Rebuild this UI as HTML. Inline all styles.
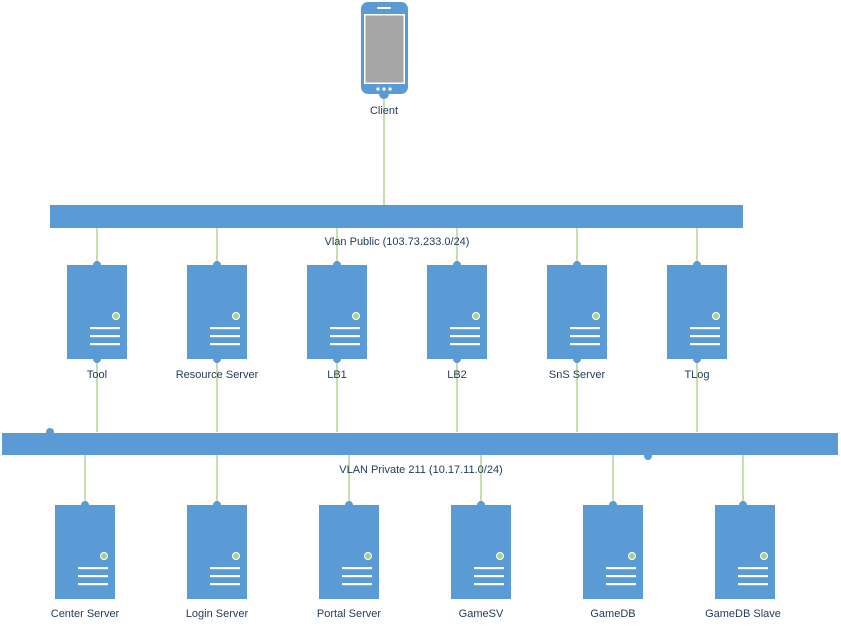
<!DOCTYPE html>
<html><head><style>body{margin:0;background:#fff}svg{display:block}</style></head><body>
<svg width="841" height="628" xmlns="http://www.w3.org/2000/svg" font-family="Liberation Sans, sans-serif" font-size="11" fill="#1f3a5a">
<defs>
<g id="srv">
<rect x="0" y="0" width="60" height="94" fill="#5b9bd5"/>
<circle cx="49" cy="51" r="3.5" fill="#a9d18e" stroke="#fff" stroke-width="1"/>
<rect x="23" y="62" width="30" height="2.2" fill="#fff"/>
<rect x="23" y="70" width="30" height="2.2" fill="#fff"/>
<rect x="23" y="78" width="30" height="2.2" fill="#fff"/>
</g>
</defs>
<g stroke="#8fbf5a" stroke-width="1">
<line x1="384" y1="95" x2="384" y2="205"/>
<line x1="97" y1="228" x2="97" y2="432"/><line x1="217" y1="228" x2="217" y2="432"/>
<line x1="337" y1="228" x2="337" y2="432"/><line x1="457" y1="228" x2="457" y2="432"/>
<line x1="577" y1="228" x2="577" y2="432"/><line x1="697" y1="228" x2="697" y2="432"/>
<line x1="85" y1="455" x2="85" y2="505"/><line x1="217" y1="455" x2="217" y2="505"/>
<line x1="349" y1="455" x2="349" y2="505"/><line x1="481" y1="455" x2="481" y2="505"/>
<line x1="613" y1="455" x2="613" y2="505"/><line x1="743" y1="455" x2="743" y2="505"/>
</g>
<rect x="50" y="205" width="693" height="23" fill="#5b9bd5"/>
<rect x="2" y="433" width="836" height="22" fill="#5b9bd5"/>
<g fill="#5b9bd5">
<circle cx="50" cy="432" r="4"/><circle cx="648" cy="456" r="4"/>
<circle cx="97" cy="265" r="4"/><circle cx="217" cy="265" r="4"/><circle cx="337" cy="265" r="4"/><circle cx="457" cy="265" r="4"/><circle cx="577" cy="265" r="4"/><circle cx="697" cy="265" r="4"/>
<circle cx="97" cy="359" r="4"/><circle cx="217" cy="359" r="4"/><circle cx="337" cy="359" r="4"/><circle cx="457" cy="359" r="4"/><circle cx="577" cy="359" r="4"/><circle cx="697" cy="359" r="4"/>
<circle cx="85" cy="505" r="4"/><circle cx="217" cy="505" r="4"/><circle cx="349" cy="505" r="4"/><circle cx="481" cy="505" r="4"/><circle cx="613" cy="505" r="4"/><circle cx="743" cy="505" r="4"/>
</g>
<use href="#srv" x="67" y="265"/><use href="#srv" x="187" y="265"/><use href="#srv" x="307" y="265"/>
<use href="#srv" x="427" y="265"/><use href="#srv" x="547" y="265"/><use href="#srv" x="667" y="265"/>
<use href="#srv" x="55" y="505"/><use href="#srv" x="187" y="505"/><use href="#srv" x="319" y="505"/>
<use href="#srv" x="451" y="505"/><use href="#srv" x="583" y="505"/><use href="#srv" x="715" y="505"/>
<!-- phone -->
<rect x="361" y="2" width="47" height="92" rx="7" fill="#5b9bd5"/>
<circle cx="384" cy="94" r="5" fill="#5b9bd5"/>
<rect x="364" y="14" width="41" height="70" fill="#fff"/>
<rect x="365.5" y="15.5" width="38" height="67" fill="#a6a6a6"/>
<rect x="377" y="7" width="14" height="2" rx="1" fill="#fff"/>
<circle cx="378" cy="89" r="1.6" fill="#fff"/><circle cx="384" cy="89" r="1.6" fill="#fff"/><circle cx="390" cy="89" r="1.6" fill="#fff"/>
<g text-anchor="middle">
<text x="384" y="114">Client</text>
<text x="397" y="245">Vlan Public (103.73.233.0/24)</text>
<text x="421" y="473">VLAN Private 211 (10.17.11.0/24)</text>
<text x="97" y="378">Tool</text><text x="217" y="378">Resource Server</text><text x="337" y="378">LB1</text>
<text x="457" y="378">LB2</text><text x="577" y="378">SnS Server</text><text x="697" y="378">TLog</text>
<text x="85" y="617">Center Server</text><text x="217" y="617">Login Server</text><text x="349" y="617">Portal Server</text>
<text x="481" y="617">GameSV</text><text x="613" y="617">GameDB</text><text x="743" y="617">GameDB Slave</text>
</g>
</svg>
</body></html>
